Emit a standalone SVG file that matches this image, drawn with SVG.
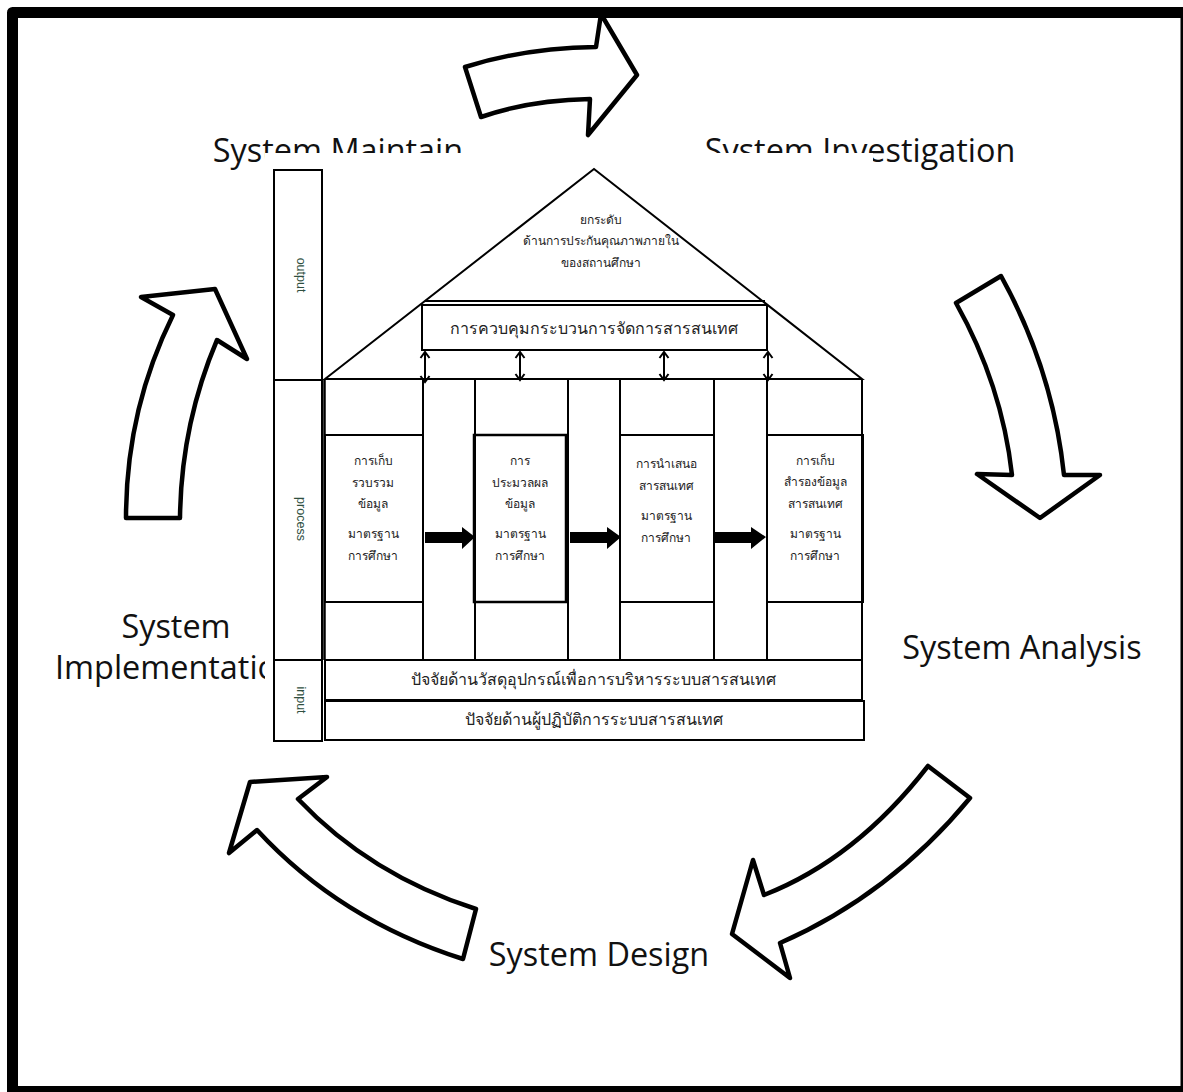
<svg xmlns="http://www.w3.org/2000/svg" width="1183" height="1092" viewBox="0 0 1183 1092">
<style>
.frame{fill:none;stroke:#000;stroke-width:11;stroke-linejoin:round}
.arrow{fill:#fff;stroke:#000;stroke-width:4.5;stroke-linejoin:round}
.big{font-family:"Open Sans","Liberation Sans",sans-serif;font-size:32.4px;fill:#111;text-anchor:middle}
.l{fill:none;stroke:#000;stroke-width:2}
.b{fill:none;stroke:#000;stroke-width:2.500}
.t{font-family:"Noto Sans","DejaVu Sans",sans-serif;fill:#222;text-anchor:middle;font-size:12px;font-weight:500}
.m{font-size:16px;font-weight:400}
.v{font-family:"Liberation Sans",sans-serif;font-size:12.5px;fill:#2f4f3f;text-anchor:middle}
.d{fill:none;stroke:#000;stroke-width:2}
</style>
<defs><marker id="h" markerWidth="12" markerHeight="12" refX="8" refY="6" orient="auto-start-reverse" markerUnits="userSpaceOnUse"><path d="M2 1.500L8 6L2 10.500" fill="none" stroke="#000" stroke-width="2"/></marker></defs>
<rect width="1183" height="1092" fill="#fff"/>
<text class="big" x="338" y="162">System Maintain</text>
<text class="big" x="860" y="162">System Investigation</text>
<text class="big" x="176" y="638">System</text>
<text class="big" x="176" y="679">Implementation</text>
<text class="big" x="1022" y="659">System Analysis</text>
<text class="big" x="599" y="966">System Design</text>
<g id="arrows">
<path class="arrow" d="M465 67Q525 48 596 47L601 14L637 75L588 135L590 99Q530 100 481 117Z"/>
<path class="arrow" d="M956 303L1001 276Q1053 370 1064 475L1100 475L1040 518L977 474L1012 475Q1002 385 956 303Z"/>
<path class="arrow" d="M928 766L970 798Q890 895 780 943L790 978L732 934L753 860L764 895Q856 859 928 766Z"/>
<path class="arrow" d="M476 909L463 959Q340 920 257 830L229 853L250 782L327 777L298 799Q370 875 476 909Z"/>
<path class="arrow" d="M126 518L180 518Q181 425 217 340L247 359L215 289L141 297L173 315Q126 410 126 518Z"/>
</g>
<path class="frame" d="M1186 12.500H12.500V1091.500H1186Z"/>
<rect x="265" y="153" width="608" height="592" fill="#fff"/>
<g id="output"><rect class="l" x="274" y="170" width="48" height="210"/><text class="v" transform="translate(297 275) rotate(90)">output</text></g>
<g id="process"><rect class="l" x="274" y="380" width="48" height="280"/><text class="v" transform="translate(297 519) rotate(90)">process</text></g>
<g id="input"><rect class="l" x="274" y="660" width="48" height="81"/><text class="v" transform="translate(297 700) rotate(90)">input</text></g>
<g id="roof">
<path class="l" d="M325 379L594 169L862 379Z"/>
<path class="l" d="M425 301H765"/>
<text class="t" x="601" y="224">ยกระดับ</text>
<text class="t" x="601" y="245">ด้านการประกันคุณภาพภายใน</text>
<text class="t" x="601" y="267">ของสถานศึกษา</text>
</g>
<g id="control"><rect class="l" x="422" y="305" width="345" height="45" fill="#fff"/><text class="t m" x="594" y="334">การควบคุมกระบวนการจัดการสารสนเทศ</text></g>
<g id="columns">
<path class="l" d="M423 379V660M475 379V660M568 379V660M620 379V660M714 379V660M767 379V660M862 379V660"/>
<path class="b" d="M324.500 379V660"/>
</g>
<g id="col1"><rect class="l" x="325" y="435" width="98" height="167"/>
<text class="t" x="373" y="465">การเก็บ</text><text class="t" x="373" y="487">รวบรวม</text><text class="t" x="373" y="508">ข้อมูล</text><text class="t" x="373" y="538">มาตรฐาน</text><text class="t" x="373" y="560">การศึกษา</text></g>
<g id="col2"><rect class="b" x="474" y="435" width="92" height="167"/>
<text class="t" x="520" y="465">การ</text><text class="t" x="520" y="487">ประมวลผล</text><text class="t" x="520" y="508">ข้อมูล</text><text class="t" x="520" y="538">มาตรฐาน</text><text class="t" x="520" y="560">การศึกษา</text></g>
<g id="col3"><rect class="l" x="620" y="435" width="94" height="167"/>
<text class="t" x="666" y="468">การนำเสนอ</text><text class="t" x="666" y="490">สารสนเทศ</text><text class="t" x="666" y="520">มาตรฐาน</text><text class="t" x="666" y="542">การศึกษา</text></g>
<g id="col4"><rect class="l" x="767" y="435" width="96" height="167"/>
<text class="t" x="815" y="465">การเก็บ</text><text class="t" x="815" y="486">สำรองข้อมูล</text><text class="t" x="815" y="508">สารสนเทศ</text><text class="t" x="815" y="538">มาตรฐาน</text><text class="t" x="815" y="560">การศึกษา</text></g>
<g id="input1"><rect class="l" x="325" y="660" width="537" height="40" stroke-width="2.500"/><text class="t m" x="593" y="685">ปัจจัยด้านวัสดุอุปกรณ์เพื่อการบริหารระบบสารสนเทศ</text></g>
<g id="input2"><rect class="l" x="325" y="701" width="539" height="39"/><text class="t m" x="594" y="725">ปัจจัยด้านผู้ปฏิบัติการระบบสารสนเทศ</text></g>
<g id="connectors">
<path class="d" d="M425 352V382" marker-start="url(#h)" marker-end="url(#h)"/>
<path class="d" d="M520 352V380" marker-start="url(#h)" marker-end="url(#h)"/>
<path class="d" d="M664 352V380" marker-start="url(#h)" marker-end="url(#h)"/>
<path class="d" d="M768 352V380" marker-start="url(#h)" marker-end="url(#h)"/>
<path d="M425 532H462V527L475 537L462 549V543H425ZM570 532H607V527L621 537L607 549V543H570ZM714 532H751V527L766 537L751 549V543H714Z" fill="#000"/>
</g>
</svg>
